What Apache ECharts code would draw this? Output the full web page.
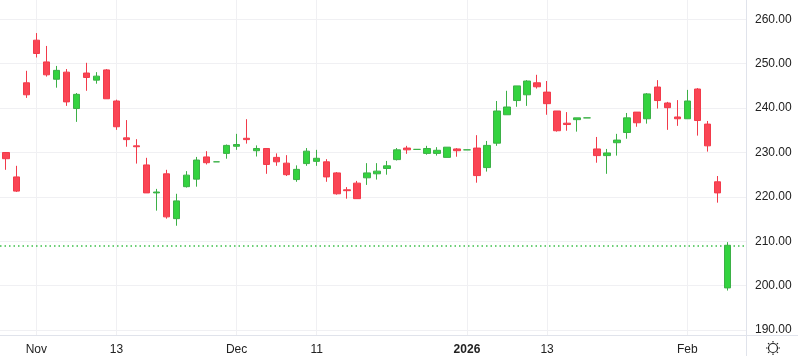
<!DOCTYPE html>
<html>
<head>
<meta charset="utf-8">
<script src="https://cdn.jsdelivr.net/npm/echarts@6/dist/echarts.min.js"></script>
<style>
html,body{margin:0;padding:0;background:#fff;}
#c{width:798px;height:356px;}
</style>
</head>
<body>
<div id="c"></div>
<script>
var dates = ['2025-10-29','2025-10-30','2025-10-31','2025-11-03','2025-11-04','2025-11-05','2025-11-06','2025-11-07','2025-11-10','2025-11-11','2025-11-12','2025-11-13','2025-11-14','2025-11-17','2025-11-18','2025-11-19','2025-11-20','2025-11-21','2025-11-24','2025-11-25','2025-11-26','2025-11-27','2025-11-28','2025-12-01','2025-12-02','2025-12-03','2025-12-04','2025-12-05','2025-12-08','2025-12-09','2025-12-10','2025-12-11','2025-12-12','2025-12-15','2025-12-16','2025-12-17','2025-12-18','2025-12-19','2025-12-22','2025-12-23','2025-12-24','2025-12-25','2025-12-26','2025-12-29','2025-12-30','2025-12-31','2026-01-01','2026-01-02','2026-01-05','2026-01-06','2026-01-07','2026-01-08','2026-01-09','2026-01-12','2026-01-13','2026-01-14','2026-01-15','2026-01-16','2026-01-19','2026-01-20','2026-01-21','2026-01-22','2026-01-23','2026-01-26','2026-01-27','2026-01-28','2026-01-29','2026-01-30','2026-02-02','2026-02-03','2026-02-04','2026-02-05','2026-02-06'];
var opens  = [230.0,224.5,245.7,255.3,250.4,246.5,248.1,239.9,247.9,246.3,248.6,241.6,233.3,231.5,227.2,220.9,225.2,215.1,222.3,224.0,229.0,227.9,229.8,231.4,233.2,230.4,230.9,228.9,227.6,223.9,227.5,228.0,227.9,225.4,221.6,223.1,224.3,225.2,226.4,228.4,231.0,230.7,229.8,229.8,228.9,230.8,230.6,231.0,226.6,232.1,238.5,241.7,243.0,245.7,243.6,239.35,236.6,237.4,237.8,230.8,229.3,232.2,234.5,239.1,237.6,244.75,241.15,238.0,237.6,244.3,236.4,223.4,199.5];
var closes = [228.6,221.3,243.0,252.3,247.5,248.5,241.4,243.1,246.9,247.2,242.1,235.8,232.9,231.3,220.9,221.1,215.5,219.1,224.9,228.3,227.7,227.9,231.6,231.8,232.9,230.9,227.3,227.9,225.0,226.2,230.3,228.7,224.5,220.7,221.4,219.6,225.4,225.8,227.0,230.6,230.6,230.7,230.9,230.5,231.2,230.4,230.6,224.8,231.6,239.35,240.25,245.0,246.1,244.8,241.0,234.9,236.3,237.8,237.8,229.3,229.9,232.8,237.8,236.7,243.2,241.7,240.1,237.6,241.6,237.2,231.5,220.9,209.1];
var lows   = [226.1,221.1,242.3,251.4,247.1,244.6,240.5,236.9,243.9,245.5,242.1,235.1,231.3,227.5,220.9,216.9,215.1,213.5,222.1,222.3,227.3,227.9,228.6,230.6,232.0,229.1,225.2,227.0,224.7,223.4,227.0,227.0,223.4,220.5,219.6,219.6,222.7,223.9,225.0,228.2,229.7,230.7,229.5,229.3,228.9,229.05,230.6,223.2,225.7,231.5,238.5,240.3,240.5,244.4,238.5,234.7,234.9,234.7,237.8,227.7,225.2,229.3,233.1,235.8,236.5,239.9,235.1,236.0,237.6,233.8,230.2,218.7,198.9];
var highs  = [230.1,227.0,248.4,256.9,254.0,249.5,248.8,243.4,250.2,248.1,248.8,241.9,237.3,233.0,228.8,221.8,226.1,220.7,225.8,229.0,230.3,227.9,231.8,234.2,237.5,231.6,230.9,229.8,229.4,227.1,231.0,230.6,228.5,225.6,222.2,223.6,227.6,227.6,228.1,231.0,231.5,230.7,231.5,231.2,231.2,231.0,230.6,233.9,232.6,241.6,243.9,245.0,246.3,247.5,246.1,239.35,239.1,237.8,237.8,233.5,230.8,234.2,238.9,239.1,243.4,246.3,241.4,241.8,244.1,244.5,237.1,224.7,209.8];
var xTickIdx  = [3, 11, 23, 31, 46, 54, 68];
var xTickText = ['Nov', '13', 'Dec', '11', '2026', '13', 'Feb'];
var yTicks = [190, 200, 210, 220, 230, 240, 250, 260];

var UP = '#33d33f', UP_B = '#3bb046', DOWN = '#fa4554', DOWN_B = '#f23a4a';

var data = dates.map(function (d, i) { return [i, opens[i], closes[i], lows[i], highs[i]]; });
var lastClose = closes[closes.length - 1];

var chart = echarts.init(document.getElementById('c'), null, {renderer: 'canvas'});

var graphics = [
  {type: 'line', shape: {x1: 746.5, y1: 0, x2: 746.5, y2: 356}, style: {stroke: '#e0e3eb', lineWidth: 1}, silent: true, z: 10},
  {type: 'line', shape: {x1: 0, y1: 335.5, x2: 798, y2: 335.5}, style: {stroke: '#e0e3eb', lineWidth: 1}, silent: true, z: 10},
  {type: 'circle', shape: {cx: 773, cy: 348, r: 4.5}, style: {fill: 'none', stroke: '#222', lineWidth: 1.2}, silent: true, z: 10}
];
for (var k = 0; k < 8; k++) {
  var a = k * Math.PI / 4;
  graphics.push({type: 'line', shape: {x1: 773 + Math.cos(a) * 5.5, y1: 348 + Math.sin(a) * 5.5, x2: 773 + Math.cos(a) * 7, y2: 348 + Math.sin(a) * 7}, style: {stroke: '#222', lineWidth: 1.2}, silent: true, z: 10});
}

chart.setOption({
  animation: false,
  backgroundColor: '#ffffff',
  grid: {left: 0, right: 52, top: 0, bottom: 21, containLabel: false},
  xAxis: {
    type: 'value',
    min: -0.624,
    max: 73.86,
    axisLine: {show: false},
    axisTick: {show: false, customValues: xTickIdx},
    splitLine: {show: true, lineStyle: {color: '#f0f0f3', width: 1}},
    axisLabel: {
      customValues: xTickIdx,
      margin: 9,
      fontSize: 12,
      fontFamily: 'Liberation Sans, Arial, sans-serif',
      color: '#222',
      formatter: function (v) {
        var t = xTickText[xTickIdx.indexOf(Math.round(v))];
        return t === '2026' ? '{b|' + t + '}' : t;
      },
      rich: {b: {fontWeight: 'bold', fontSize: 12, fontFamily: 'Liberation Sans, Arial, sans-serif', color: '#222'}}
    }
  },
  yAxis: {
    type: 'value',
    position: 'right',
    min: 188.89,
    max: 264.35,
    axisLine: {show: false},
    axisTick: {show: false, customValues: yTicks},
    splitLine: {show: true, lineStyle: {color: '#f0f0f3', width: 1}},
    axisLabel: {
      customValues: yTicks,
      margin: 9,
      fontSize: 12,
      fontFamily: 'Liberation Sans, Arial, sans-serif',
      color: '#222',
      formatter: function (v) { return v.toFixed(2); }
    }
  },
  graphic: graphics,
  series: [{
    type: 'candlestick',
    data: data,
    encode: {x: 0, y: [1, 2, 3, 4]},
    barWidth: 7,
    itemStyle: {color: UP, borderColor: UP_B, color0: DOWN, borderColor0: DOWN_B, borderWidth: 1},
    markLine: {
      silent: true,
      symbol: ['none', 'none'],
      label: {show: false},
      lineStyle: {type: [1.5, 3], color: '#3cc04a', width: 1.5},
      data: [{yAxis: lastClose}]
    }
  }]
});
</script>
</body>
</html>
